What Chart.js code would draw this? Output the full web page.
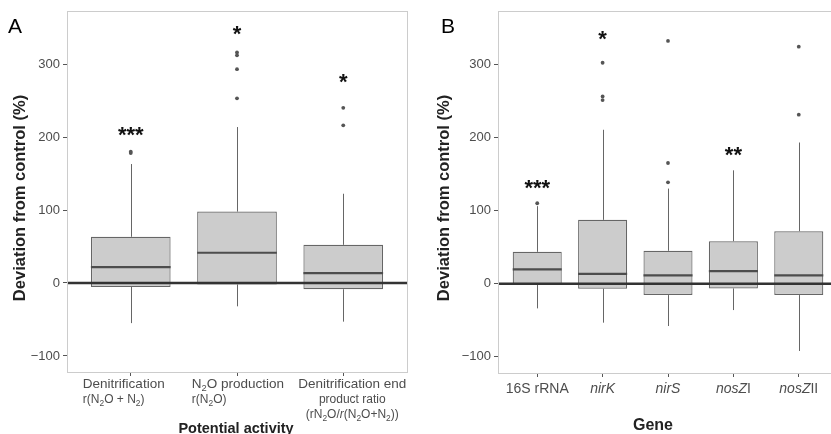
<!DOCTYPE html>
<html>
<head>
<meta charset="utf-8">
<script src="https://cdn.jsdelivr.net/npm/chart.js@4.4.0/dist/chart.umd.min.js"></script>
<style>
  html, body { margin: 0; padding: 0; background: #fff; overflow: hidden; width: 831px; height: 434px; }
  canvas { position: absolute; top: 0; }
</style>
</head>
<body>
<canvas id="chartA" width="415" height="434" style="left:0"></canvas>
<canvas id="chartB" width="430" height="434" style="left:415px"></canvas>
<script>
// panel A - potential activity
var activityLabels = ['Denitrification', 'N2O production', 'Denitrification end product ratio'];
var activityLow = [-55, -32, -53];
var activityQ1 = [-5.5, -2, -8.6];
var activityMedian = [21.8, 41.4, 13.6];
var activityQ3 = [63.3, 97.8, 52.3];
var activityHigh = [163, 213.7, 122.3];
var activityOutliers = [[178, 180], [253, 293, 312, 316], [216, 240]];
var activitySig = ['***', '*', '*'];
var activitySigY = [211, 349, 283];

// panel B - genes
var geneLabels = ['16S rRNA', 'nirK', 'nirS', 'nosZI', 'nosZII'];
var geneLow = [-33.7, -53.2, -57.8, -36, -91.9];
var geneQ1 = [-0.5, -6.8, -15.5, -6.4, -15.5];
var geneMedian = [19.5, 13.6, 11.3, 17.3, 11.3];
var geneQ3 = [43.6, 87.3, 45, 58.1, 71.8];
var geneHigh = [106, 210.4, 130, 155, 193];
var geneOutliers = [[110], [251, 256, 302], [138.6, 165, 331.8], [], [231, 324]];
var geneSig = ['***', '*', '', '**', ''];
var geneSigY = [137.7, 342, null, 183, null];

var yTicks = [-100, 0, 100, 200, 300];

// tick text with subscripts ('n' normal, 'i' italic, 's' subscript)
var activityTickLines = [
  [[['Denitrification', 'n']], [['r(N', 'n'], ['2', 's'], ['O + N', 'n'], ['2', 's'], [')', 'n']]],
  [[['N', 'n'], ['2', 's'], ['O production', 'n']], [['r(N', 'n'], ['2', 's'], ['O)', 'n']]],
  [[['Denitrification end', 'n']], [['product ratio', 'n']],
   [['(rN', 'n'], ['2', 's'], ['O/', 'n'], ['r', 'i'], ['(N', 'n'], ['2', 's'], ['O+N', 'n'], ['2', 's'], ['))', 'n']]]
];
var geneTickLines = [
  [[['16S rRNA', 'n']]],
  [[['nirK', 'i']]],
  [[['nirS', 'i']]],
  [[['nosZ', 'i'], ['I', 'n']]],
  [[['nosZ', 'i'], ['II', 'n']]]
];

var FONT = '"Liberation Sans", Arial, sans-serif';

function fontFor(kind, size) {
  if (kind === 's') return (size * 0.7).toFixed(1) + 'px ' + FONT;
  if (kind === 'i') return 'italic ' + size + 'px ' + FONT;
  return size + 'px ' + FONT;
}
function richWidth(ctx, segs, size) {
  var w = 0;
  segs.forEach(function (s) { ctx.font = fontFor(s[1], size); w += ctx.measureText(s[0]).width; });
  return w;
}
function drawRich(ctx, segs, left, base, size) {
  var x = left;
  segs.forEach(function (s) {
    ctx.font = fontFor(s[1], size);
    ctx.fillText(s[0], x, s[1] === 's' ? base + size * 0.22 : base);
    x += ctx.measureText(s[0]).width;
  });
}

function boxPlugin(d) {
  return {
    id: 'boxExtras',
    beforeDatasetsDraw: function (chart) {
      var ctx = chart.ctx, x = chart.scales.x, y = chart.scales.y;
      ctx.save();
      ctx.strokeStyle = '#666';
      ctx.lineWidth = 1;
      d.low.forEach(function (lo, i) {
        var px = Math.round(x.getPixelForValue(i + 1)) + 0.5;
        ctx.beginPath();
        ctx.moveTo(px, y.getPixelForValue(d.high[i]));
        ctx.lineTo(px, y.getPixelForValue(d.q3[i]));
        ctx.moveTo(px, y.getPixelForValue(d.q1[i]));
        ctx.lineTo(px, y.getPixelForValue(lo));
        ctx.stroke();
      });
      ctx.restore();
    },
    afterDatasetsDraw: function (chart) {
      var ctx = chart.ctx, x = chart.scales.x, y = chart.scales.y, area = chart.chartArea;
      ctx.save();
      // medians
      ctx.strokeStyle = '#4d4d4d';
      ctx.lineWidth = 2.2;
      chart.getDatasetMeta(0).data.forEach(function (bar, i) {
        var p = bar.getProps(['x', 'width'], true);
        var py = y.getPixelForValue(d.median[i]);
        ctx.beginPath();
        ctx.moveTo(p.x - p.width / 2, py);
        ctx.lineTo(p.x + p.width / 2, py);
        ctx.stroke();
      });
      // reference line at zero
      var y0 = y.getPixelForValue(0);
      ctx.strokeStyle = '#333';
      ctx.lineWidth = 2.5;
      ctx.beginPath();
      ctx.moveTo(area.left, y0);
      ctx.lineTo(area.right, y0);
      ctx.stroke();
      // significance stars
      ctx.fillStyle = '#111';
      ctx.textAlign = 'center';
      ctx.textBaseline = 'alphabetic';
      ctx.font = 'bold 22px ' + FONT;
      d.sig.forEach(function (s, i) {
        if (!s) return;
        ctx.fillText(s, x.getPixelForValue(i + 1), y.getPixelForValue(d.sigY[i]) + 12.5);
      });
      ctx.restore();
    },
    afterDraw: function (chart) {
      var ctx = chart.ctx, x = chart.scales.x, area = chart.chartArea;
      ctx.save();
      // panel border
      ctx.strokeStyle = '#cccccc';
      ctx.lineWidth = 1;
      ctx.strokeRect(Math.round(area.left) + 0.5, Math.round(area.top) + 0.5,
        Math.round(area.right - area.left), Math.round(area.bottom - area.top));
      // x tick labels
      ctx.fillStyle = '#4d4d4d';
      ctx.textAlign = 'left';
      ctx.textBaseline = 'alphabetic';
      d.tickLines.forEach(function (lines, i) {
        var tx = x.getPixelForValue(i + 1) + d.tickShift[i];
        var widths = lines.map(function (ln, k) { return richWidth(ctx, ln, d.tickSizes[k]); });
        var blockW = Math.max.apply(null, widths);
        lines.forEach(function (ln, k) {
          var left = d.tickAlign[i] === 'left' ? tx - blockW / 2 : tx - widths[k] / 2;
          drawRich(ctx, ln, left, d.tickBase[k], d.tickSizes[k]);
        });
      });
      // axis titles
      ctx.fillStyle = '#222';
      ctx.textAlign = 'center';
      ctx.font = 'bold ' + d.xTitleSize + 'px ' + FONT;
      ctx.fillText(d.xTitle, d.xTitleX, d.xTitleBase);
      ctx.save();
      ctx.translate(d.yTitleX, 198);
      ctx.rotate(-Math.PI / 2);
      ctx.textBaseline = 'middle';
      ctx.font = 'bold 16.5px ' + FONT;
      ctx.fillText('Deviation from control (%)', 0, 0);
      ctx.restore();
      // panel letter
      ctx.fillStyle = '#000';
      ctx.textAlign = 'left';
      ctx.font = '21px ' + FONT;
      ctx.fillText(d.letter, d.letterX, 33);
      ctx.restore();
    }
  };
}

function makeChart(id, labels, lo, q1, med, q3, hi, outl, sig, sigY, cfg) {
  var boxes = labels.map(function (_, i) { return { x: i + 1, y: [q1[i], q3[i]] }; });
  var points = [];
  outl.forEach(function (vals, i) { vals.forEach(function (v) { points.push({ x: i + 1, y: v }); }); });

  var d = {
    low: lo, q1: q1, median: med, q3: q3, high: hi, sig: sig, sigY: sigY,
    tickLines: cfg.tickLines, tickShift: cfg.tickShift, tickAlign: cfg.tickAlign,
    tickSizes: cfg.tickSizes, tickBase: cfg.tickBase,
    xTitle: cfg.xTitle, xTitleX: cfg.xTitleX, xTitleBase: cfg.xTitleBase, xTitleSize: cfg.xTitleSize,
    yTitleX: cfg.yTitleX, letter: cfg.letter, letterX: cfg.letterX
  };

  return new Chart(document.getElementById(id), {
    type: 'bar',
    data: {
      datasets: [{
        type: 'bar',
        data: boxes,
        backgroundColor: '#cccccc',
        borderColor: '#666666',
        borderWidth: 1.2,
        borderSkipped: false,
        categoryPercentage: 0.75,
        barPercentage: 1,
        order: 2
      }, {
        type: 'scatter',
        data: points,
        pointRadius: 1.9,
        pointBackgroundColor: '#555',
        pointBorderWidth: 0,
        order: 1
      }]
    },
    options: {
      responsive: false,
      animation: false,
      events: [],
      layout: { padding: { top: cfg.top, right: cfg.right, left: 0, bottom: 0 } },
      plugins: { legend: { display: false }, tooltip: { enabled: false } },
      scales: {
        x: {
          type: 'linear',
          min: 0.4,
          max: labels.length + 0.6,
          offset: false,
          grid: { offset: false, drawOnChartArea: false, tickLength: 4, color: '#555' },
          border: { display: false },
          ticks: { display: false },
          afterBuildTicks: function (s) { s.ticks = labels.map(function (_, i) { return { value: i + 1 }; }); },
          afterFit: function (s) { s.height = cfg.xHeight; }
        },
        y: {
          min: -122,
          max: 373,
          grid: { drawOnChartArea: false, tickLength: 4, color: '#555' },
          border: { display: false },
          ticks: {
            color: '#4d4d4d',
            padding: 3,
            font: { family: FONT, size: 13 },
            callback: function (v) { return v < 0 ? '\u2212' + Math.abs(v) : String(v); }
          },
          afterBuildTicks: function (s) { s.ticks = yTicks.map(function (v) { return { value: v }; }); },
          afterFit: function (s) { s.width = cfg.yWidth; }
        }
      }
    },
    plugins: [boxPlugin(d)]
  });
}

makeChart('chartA', activityLabels, activityLow, activityQ1, activityMedian, activityQ3, activityHigh,
  activityOutliers, activitySig, activitySigY, {
    top: 9, right: 8, xHeight: 62, yWidth: 67,
    tickLines: activityTickLines, tickShift: [-7, 1, 9], tickAlign: ['left', 'left', 'center'],
    tickSizes: [13.5, 12, 12], tickBase: [388, 403, 418],
    xTitle: 'Potential activity', xTitleX: 236, xTitleBase: 433, xTitleSize: 14.5,
    yTitleX: 20, letter: 'A', letterX: 8
  });

makeChart('chartB', geneLabels, geneLow, geneQ1, geneMedian, geneQ3, geneHigh,
  geneOutliers, geneSig, geneSigY, {
    top: 10, right: 7, xHeight: 61, yWidth: 83,
    tickLines: geneTickLines, tickShift: [0, 0, 0, 0, 0], tickAlign: ['center', 'center', 'center', 'center', 'center'],
    tickSizes: [14], tickBase: [393],
    xTitle: 'Gene', xTitleX: 238, xTitleBase: 430, xTitleSize: 16,
    yTitleX: 29, letter: 'B', letterX: 26
  });
</script>
</body>
</html>
